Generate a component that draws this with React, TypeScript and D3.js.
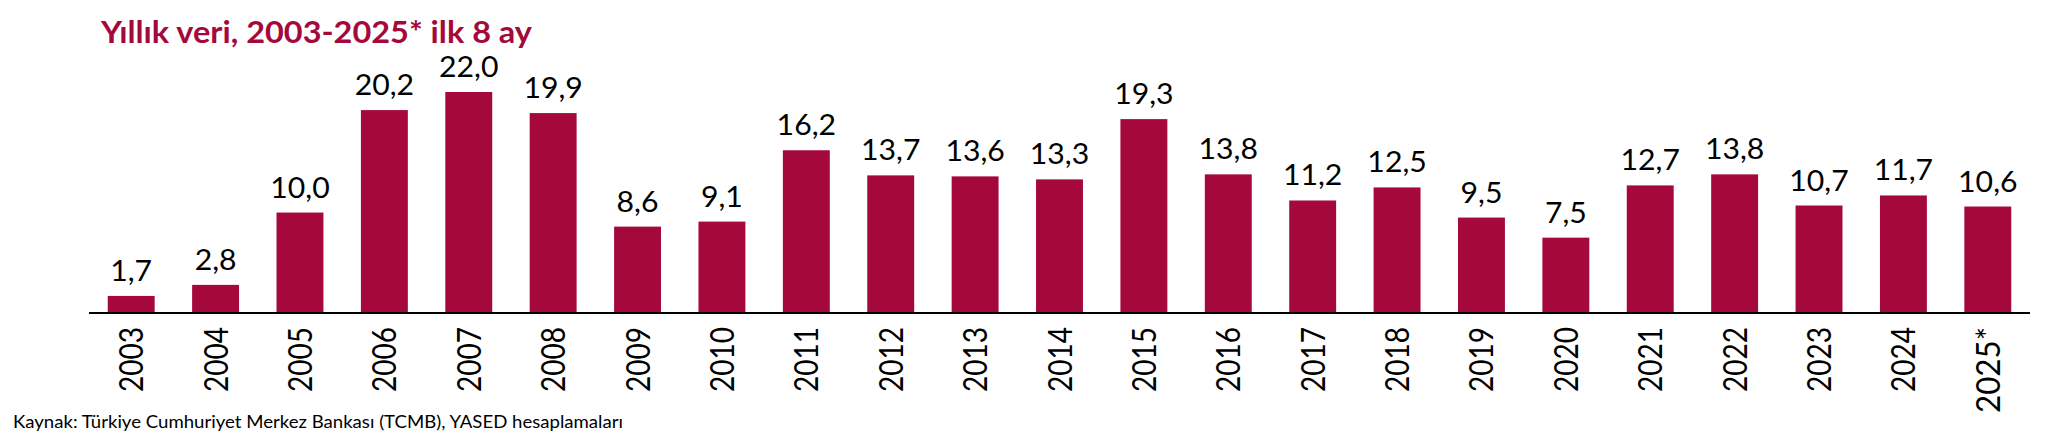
import React from "react";
import * as d3 from "d3";

const years: string[] = [
  "2003", "2004", "2005", "2006", "2007", "2008", "2009", "2010", "2011", "2012",
  "2013", "2014", "2015", "2016", "2017", "2018", "2019", "2020", "2021", "2022",
  "2023", "2024", "2025*",
];
const values: number[] = [
  1.7, 2.8, 10.0, 20.2, 22.0, 19.9, 8.6, 9.1, 16.2, 13.7,
  13.6, 13.3, 19.3, 13.8, 11.2, 12.5, 9.5, 7.5, 12.7, 13.8,
  10.7, 11.7, 10.6,
];
const titleText = "Yıllık veri, 2003-2025* ilk 8 ay";
const sourceText = "Kaynak: Türkiye Cumhuriyet Merkez Bankası (TCMB), YASED hesaplamaları";

const W = 2048;
const H = 438;
const BAR = "#A5083A";
const FONT = "Lato, 'Open Sans', sans-serif";

export default function App() {
  const x = d3
    .scaleBand<string>()
    .domain(years)
    .range([89, 2030])
    .paddingInner(0.444)
    .paddingOuter(0.222);
  const y = d3.scaleLinear().domain([0, 22]).range([313, 92]);
  const fmt = (v: number) => d3.format(".1f")(v).replace(".", ",");

  return (
    <svg
      width={W}
      height={H}
      style={{ position: "absolute", left: 0, top: 0, background: "#fff" }}
    >
      <text
        x={101}
        y={43}
        fill={BAR}
        fontFamily={FONT}
        fontWeight={700}
        fontSize={31}
        textLength={431}
        lengthAdjust="spacingAndGlyphs"
      >
        {titleText}
      </text>
      {years.map((yr, i) => {
        const v = values[i];
        const bx = x(yr)!;
        const cx = bx + x.bandwidth() / 2;
        return (
          <g key={yr}>
            <rect x={bx} y={y(v)} width={x.bandwidth()} height={y(0) - y(v)} fill={BAR} />
            <text
              transform={`translate(${cx},${y(v) - 15}) scale(1.06,1)`}
              textAnchor="middle"
              fontFamily={FONT}
              fontSize={28.5}
              fill="#000"
            >
              {fmt(v)}
            </text>
            <text
              transform={`translate(${cx + 12},327) rotate(-90)`}
              textAnchor="end"
              fontFamily={FONT}
              fontSize={33.5}
              fill="#000"
              textLength={yr.length > 4 ? 86 : 65}
              lengthAdjust="spacingAndGlyphs"
            >
              {yr}
            </text>
          </g>
        );
      })}
      <line x1={89} x2={2030} y1={y(0)} y2={y(0)} stroke="#000" strokeWidth={2} />
      <text
        x={13}
        y={428}
        fontFamily={FONT}
        fontSize={18}
        fill="#000"
        textLength={610}
        lengthAdjust="spacingAndGlyphs"
      >
        {sourceText}
      </text>
    </svg>
  );
}
